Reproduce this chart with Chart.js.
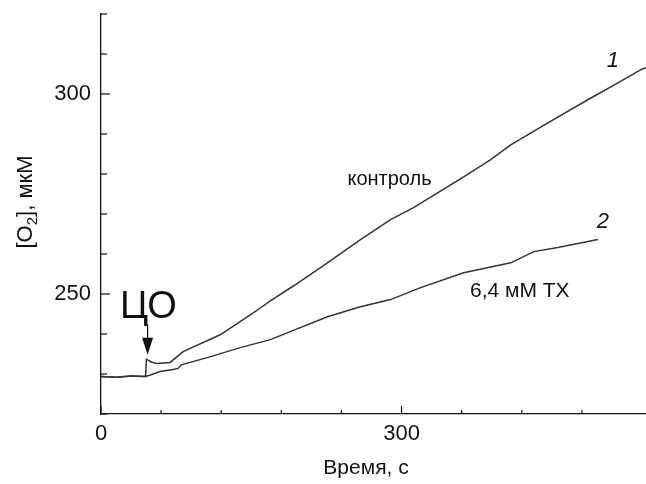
<!DOCTYPE html>
<html>
<head>
<meta charset="utf-8">
<script src="https://cdn.jsdelivr.net/npm/chart.js@4/dist/chart.umd.min.js"></script>
<style>
  body { margin: 0; background: #fff; }
  #wrap { width: 646px; height: 484px; }
</style>
</head>
<body>
<div id="wrap"><canvas id="myChart" width="646" height="484"></canvas></div>
<script>
// readings taken off the trace (time in s, [O2] in uM)
const controlTime = [0, 15, 30, 44.5, 45.3, 50, 56, 69, 82, 119, 149, 159, 169, 192, 226, 259, 289, 312, 362, 389, 409, 449, 489, 516, 539, 544];
const controlO2 = [229.4, 229.2, 229.5, 229.4, 233.7, 233.0, 232.6, 232.9, 235.6, 239.8, 244.8, 246.5, 248.3, 252.0, 257.8, 263.6, 268.6, 271.6, 279.3, 283.6, 287.3, 293.2, 299.0, 302.8, 306.1, 306.6];

const txTime = [0, 15, 30, 44.5, 50, 59, 72, 77, 80, 106, 139, 169, 189, 226, 259, 289, 319, 362, 409, 432, 456, 496];
const txO2 = [229.4, 229.2, 229.5, 229.4, 229.8, 230.6, 231.1, 231.4, 232.3, 234.1, 236.6, 238.6, 240.6, 244.3, 246.8, 248.6, 251.6, 255.3, 257.8, 260.6, 261.6, 263.6];

const xLabelTicks = [0, 300];
const yLabelTicks = [250, 300];

const FONT = '"Liberation Sans", Arial, sans-serif';
const INK = '#111';

function toPoints(xs, ys) {
    return xs.map(function(x, i){ return {x: x, y: ys[i]}; });
}

// fixed scale size, and no extra padding from the scale for its labels
function fixScale(w, h) {
    return function(s){
        if (w) s.width = w;
        if (h) s.height = h;
        s.paddingTop = 0;
        s.paddingBottom = 0;
        s.paddingLeft = 0;
        s.paddingRight = 0;
    };
}

// inward tick marks, axis titles, text labels and the arrow
const decorations = {
    id: 'decorations',
    afterDraw(chart) {
        const ctx = chart.ctx;
        const xs = chart.scales.x;
        const ys = chart.scales.y;
        const area = chart.chartArea;
        ctx.save();
        ctx.strokeStyle = INK;
        ctx.lineWidth = 1.2;

        // ticks pointing into the plot
        xs.ticks.forEach(function(t){
            if (t.value % 60 !== 0) return;
            let px = xs.getPixelForValue(t.value);
            let len = (t.value % 300 === 0) ? 8 : 4;
            ctx.beginPath();
            ctx.moveTo(px, area.bottom);
            ctx.lineTo(px, area.bottom - len);
            ctx.stroke();
        });
        ys.ticks.forEach(function(t){
            if (t.value % 10 !== 0) return;
            let py = ys.getPixelForValue(t.value);
            let len = (t.value % 50 === 0) ? 9 : 6;
            ctx.beginPath();
            ctx.moveTo(area.left, py);
            ctx.lineTo(area.left + len, py);
            ctx.stroke();
        });

        ctx.fillStyle = INK;
        ctx.textBaseline = 'middle';

        // x axis title
        ctx.textAlign = 'center';
        ctx.font = '21px ' + FONT;
        ctx.fillText('Время, с', 366, 468);

        // y axis title with subscript
        ctx.textAlign = 'left';
        let big = '22px ' + FONT, small = '15px ' + FONT;
        ctx.font = big;
        let w1 = ctx.measureText('[O').width;
        let w3 = ctx.measureText('], мкМ').width;
        ctx.font = small;
        let w2 = ctx.measureText('2').width;
        let total = w1 + w2 + w3;
        ctx.save();
        ctx.translate(26, 202);
        ctx.rotate(-Math.PI / 2);
        let sx = -total / 2;
        ctx.font = big;
        ctx.fillText('[O', sx, 0);
        ctx.font = small;
        ctx.fillText('2', sx + w1, 7);
        ctx.font = big;
        ctx.fillText('], мкМ', sx + w1 + w2, 0);
        ctx.restore();

        // annotations
        ctx.textAlign = 'center';
        ctx.font = '38px ' + FONT;
        ctx.fillText('ЦО', xs.getPixelForValue(47.4), ys.getPixelForValue(246.5));
        ctx.font = '20px ' + FONT;
        ctx.fillText('контроль', xs.getPixelForValue(288), ys.getPixelForValue(278.6));
        ctx.font = '21px ' + FONT;
        ctx.fillText('6,4 мМ ТХ', xs.getPixelForValue(418), ys.getPixelForValue(250.6));
        ctx.font = 'italic 22px ' + FONT;
        ctx.fillText('1', xs.getPixelForValue(511), ys.getPixelForValue(308.3));
        ctx.fillText('2', xs.getPixelForValue(501), ys.getPixelForValue(268.1));

        // arrow pointing at the CO addition
        let ax = xs.getPixelForValue(46.5);
        let aTop = ys.getPixelForValue(242.4);
        let aTip = ys.getPixelForValue(234.8);
        ctx.beginPath();
        ctx.moveTo(ax, aTop);
        ctx.lineTo(ax, aTip - 12);
        ctx.stroke();
        ctx.beginPath();
        ctx.moveTo(ax - 5.5, aTip - 17);
        ctx.lineTo(ax + 5.5, aTip - 17);
        ctx.lineTo(ax, aTip);
        ctx.closePath();
        ctx.fill();
        ctx.restore();
    }
};

const lineStyle = {
    borderColor: '#333',
    borderWidth: 1.5,
    pointRadius: 0,
    pointHoverRadius: 0,
    tension: 0
};

window.onload = function(){
    let ctx = document.getElementById('myChart').getContext('2d');
    new Chart(ctx, {
        type: 'line',
        data: {
            datasets: [
                Object.assign({ label: 'контроль', data: toPoints(controlTime, controlO2) }, lineStyle),
                Object.assign({ label: '6,4 мМ ТХ', data: toPoints(txTime, txO2) }, lineStyle)
            ]
        },
        options: {
            responsive: false,
            animation: false,
            layout: { padding: { top: 14, right: 0, left: 0, bottom: 0 } },
            plugins: {
                legend: { display: false },
                title: { display: false },
                tooltip: { enabled: false }
            },
            scales: {
                x: {
                    type: 'linear',
                    min: 0,
                    max: 544,
                    afterFit: fixScale(0, 70),
                    grid: { display: false, drawTicks: false },
                    border: { display: true, color: INK, width: 1.3 },
                    ticks: {
                        stepSize: 60,
                        autoSkip: false,
                        maxRotation: 0,
                        padding: 7,
                        color: INK,
                        font: { family: FONT, size: 22 },
                        callback: function(v){ return xLabelTicks.includes(v) ? String(v) : ''; }
                    }
                },
                y: {
                    min: 220,
                    max: 320,
                    afterFit: fixScale(101, 0),
                    grid: { display: false, drawTicks: false },
                    border: { display: true, color: INK, width: 1.3 },
                    ticks: {
                        stepSize: 10,
                        autoSkip: false,
                        padding: 10,
                        color: INK,
                        font: { family: FONT, size: 22 },
                        callback: function(v){ return yLabelTicks.includes(v) ? String(v) : ''; }
                    }
                }
            }
        },
        plugins: [decorations]
    });
};
</script>
</body>
</html>
